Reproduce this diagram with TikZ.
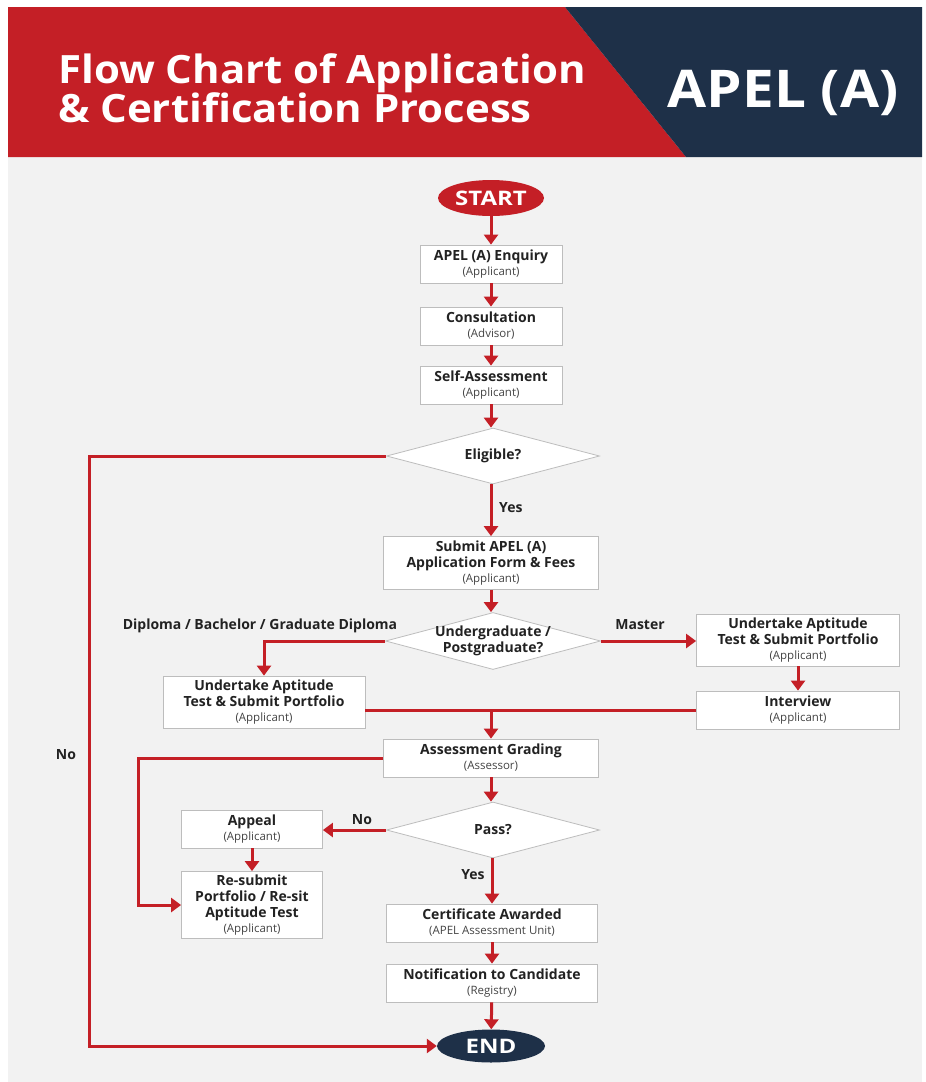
\documentclass[tikz,border=0pt]{standalone}
\usepackage{graphicx}
\usepackage{fontspec}
\setmainfont{Open Sans}
\usetikzlibrary{shapes.geometric,arrows.meta}
\definecolor{apred}{HTML}{C41F26}
\definecolor{apnavy}{HTML}{1E3048}
\definecolor{apbg}{HTML}{F2F2F2}
\definecolor{apborder}{HTML}{BDBDBD}
\definecolor{aptext}{HTML}{222222}
\definecolor{apsub}{HTML}{444444}
\newcommand\rolet[1]{\\[-1pt]{\fontsize{11.5}{13}\selectfont\mdseries\color{apsub}(#1)}}
\begin{document}
\begin{tikzpicture}[x=1pt,y=-1pt,
  box/.style={rectangle, draw=apborder, line width=0.8pt, fill=white, align=center, inner sep=0pt, text=aptext, font=\fontsize{14}{16}\selectfont\bfseries},
  dec/.style={diamond, draw=apborder, line width=0.8pt, fill=white, align=center, inner sep=0pt, aspect=3.5, minimum width=213pt, minimum height=56pt, text=aptext, font=\fontsize{14}{16.5}\selectfont\bfseries},
  arr/.style={draw=apred, line width=3pt, -{Triangle[width=14pt,length=10pt]}},
  plain/.style={draw=apred, line width=3pt},
  lbl/.style={text=aptext, font=\fontsize{14}{16}\selectfont\bfseries, inner sep=0pt},
  term/.style={ellipse, inner sep=0pt, text=white, font=\fontsize{20}{20}\selectfont\bfseries},
  ttl/.style={inner sep=0pt, text=white, font=\fontsize{39}{39}\selectfont\bfseries},
]
\useasboundingbox (0,0) rectangle (926,1082);
\fill[white] (0,0) rectangle (926,1082);
\fill[apbg] (8,157) rectangle (922,1082);
\fill[apred] (8,7) -- (565,7) -- (686,157) -- (8,157) -- cycle;
\fill[apnavy] (565,7) -- (922,7) -- (922,157) -- (686,157) -- cycle;
\node[ttl, anchor=base west] (t1) at (58,83) {\scalebox{1.075}[1]{Flow Chart of Application}};
\node[ttl, anchor=base west] (t2) at (58,122) {\scalebox{1.075}[1]{\& Certification Process}};
\node[ttl, anchor=base, font=\fontsize{52}{52}\selectfont\bfseries] (t3) at (783,107) {\scalebox{1.09}[1]{APEL (A)}};

\node[term, fill=apred, minimum width=106pt, minimum height=36pt] (start) at (491,198) {\scalebox{1.2}[1]{START}};
\node[box, minimum width=142pt, minimum height=38pt] (enq) at (491,264) {APEL (A) Enquiry\rolet{Applicant}};
\node[box, minimum width=142pt, minimum height=38pt] (cons) at (491,326) {Consultation\rolet{Advisor}};
\node[box, minimum width=142pt, minimum height=38pt] (self) at (491,385) {Self-Assessment\rolet{Applicant}};
\node[dec] (elig) at (493,456) {Eligible?};
\node[box, minimum width=215pt, minimum height=53pt] (submit) at (491,563) {Submit APEL (A)\\Application Form \& Fees\rolet{Applicant}};
\node[dec, inner sep=-6pt, aspect=3.8, minimum width=215pt, minimum height=57pt] (ug) at (493,641) {Undergraduate /\\Postgraduate?};
\node[box, minimum width=202pt, minimum height=52pt] (ugbox) at (264,702) {Undertake Aptitude\\Test \& Submit Portfolio\rolet{Applicant}};
\node[box, minimum width=203pt, minimum height=52pt] (mbox) at (798,640) {Undertake Aptitude\\Test \& Submit Portfolio\rolet{Applicant}};
\node[box, minimum width=203pt, minimum height=38pt] (intv) at (798,710) {Interview\rolet{Applicant}};
\node[box, minimum width=215pt, minimum height=38pt] (grade) at (491,758) {Assessment Grading\rolet{Assessor}};
\node[dec] (pass) at (493,830) {Pass?};
\node[box, minimum width=141pt, minimum height=38pt] (appeal) at (252,829) {Appeal\rolet{Applicant}};
\node[box, minimum width=141pt, minimum height=67pt] (resub) at (252,905) {Re-submit\\Portfolio / Re-sit\\Aptitude Test\rolet{Applicant}};
\node[box, minimum width=211pt, minimum height=38pt] (cert) at (492,923) {Certificate Awarded\rolet{APEL Assessment Unit}};
\node[box, minimum width=211pt, minimum height=38pt] (notif) at (492,983) {Notification to Candidate\rolet{Registry}};
\node[term, fill=apnavy, minimum width=108pt, minimum height=33pt] (end) at (491,1046) {\scalebox{1.2}[1]{END}};

\coordinate (noL) at (89,456);
\coordinate (reL) at (138,758);

\draw[arr] (start) -- (enq);
\draw[arr] (enq) -- (cons);
\draw[arr] (cons) -- (self);
\draw[arr] (self.south) -- (self.south |- elig.north);
\draw[arr] (elig.south -| submit.north) -- (submit.north);
\draw[arr] (submit.south) -- (submit.south |- ug.north);
\draw[arr] (ug.west) -| (ugbox.north);
\draw[arr] (ug.east) -- (ug.east -| mbox.west);
\draw[arr] (mbox) -- (intv);
\draw[plain] (ugbox.east |- intv) -- (intv.west);
\draw[arr] (grade.north |- intv) -- (grade.north);
\draw[arr] (grade.south) -- (grade.south |- pass.north);
\draw[arr] (pass.west) -- (appeal.east |- pass.west);
\draw[arr] (appeal) -- (resub);
\draw[arr] (grade.west) -- (reL) |- (resub.west);
\draw[arr] (pass.south -| cert.north) -- (cert.north);
\draw[arr] (cert) -- (notif);
\draw[arr] (notif) -- (end);
\draw[arr] (elig.west) -- (noL) |- (end.west);

\node[lbl, anchor=west] (yes1) at (499,508) {Yes};
\node[lbl] (dip) at (260,626) {Diploma / Bachelor / Graduate Diploma};
\node[lbl] (mas) at (640,625) {Master};
\node[lbl] (no1) at (66,755) {No};
\node[lbl] (no2) at (362,820) {No};
\node[lbl] (yes2) at (473,875) {Yes};
\end{tikzpicture}
\end{document}
